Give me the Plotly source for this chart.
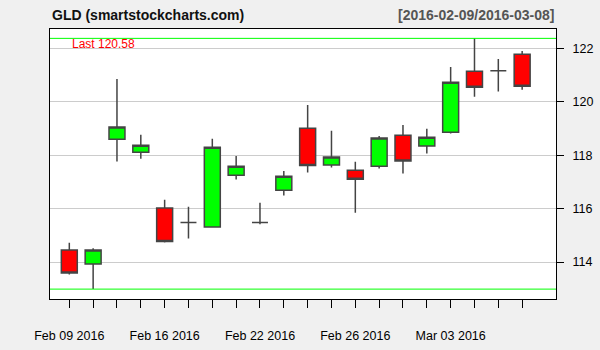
import plotly.graph_objects as go

dates = ["2016-02-09", "2016-02-10", "2016-02-11", "2016-02-12", "2016-02-16",
         "2016-02-17", "2016-02-18", "2016-02-19", "2016-02-22", "2016-02-23",
         "2016-02-24", "2016-02-25", "2016-02-26", "2016-02-29", "2016-03-01",
         "2016-03-02", "2016-03-03", "2016-03-04", "2016-03-07", "2016-03-08"]
open_ = [114.45, 113.93, 118.60, 118.11, 116.02, 115.48, 115.31, 117.25, 115.48, 116.69,
         119.01, 117.63, 117.44, 117.59, 118.75, 118.34, 118.86, 121.14, 121.16, 121.78]
high = [114.72, 114.52, 120.85, 118.76, 116.33, 116.07, 118.61, 117.97, 116.22, 117.41,
        119.88, 118.91, 117.75, 118.72, 119.13, 118.99, 121.30, 122.37, 121.60, 121.90]
low = [113.54, 112.99, 117.76, 117.87, 114.73, 114.88, 115.29, 117.09, 115.42, 116.49,
       117.35, 117.54, 115.85, 117.50, 117.31, 118.06, 118.81, 120.19, 120.38, 120.45]
close = [113.59, 114.45, 119.05, 118.37, 114.77, 115.48, 118.30, 117.59, 115.48, 117.21,
         117.61, 117.93, 117.10, 118.64, 117.78, 118.67, 120.73, 120.54, 121.16, 120.58]

label_dates = {"2016-02-09": "Feb 09 2016", "2016-02-16": "Feb 16 2016",
               "2016-02-22": "Feb 22 2016", "2016-02-26": "Feb 26 2016",
               "2016-03-03": "Mar 03 2016"}
ytick_vals = [114, 116, 118, 120, 122]
title_left = "GLD (smartstockcharts.com)"
title_right = "[2016-02-09/2016-03-08]"

FONT = "Liberation Sans, Arial, sans-serif"

fig = go.Figure()
fig.add_trace(go.Candlestick(
    x=dates, open=open_, high=high, low=low, close=close,
    increasing=dict(fillcolor="#00FF00", line=dict(color="#444444", width=1.5)),
    decreasing=dict(fillcolor="#FF0000", line=dict(color="#444444", width=1.5)),
    whiskerwidth=0, showlegend=False, hoverinfo="skip",
))

# max high / min low lines
for v in (max(high), min(low)):
    fig.add_shape(type="line", xref="paper", x0=0, x1=1, yref="y", y0=v, y1=v,
                  line=dict(color="#00FF00", width=1), layer="above")

fig.add_annotation(text=f"Last {close[-1]:.2f}", xref="paper", yref="paper",
                   x=0.039, y=0.946, xanchor="left", yanchor="middle", showarrow=False,
                   font=dict(family=FONT, size=12, color="#FF0000"))
fig.add_annotation(text=f"<b>{title_left}</b>", xref="paper", yref="paper",
                   x=0, y=1.052, xanchor="left", yanchor="middle", showarrow=False,
                   font=dict(family=FONT, size=14, color="#111111"))
fig.add_annotation(text=f"<b>{title_right}</b>", xref="paper", yref="paper",
                   x=1, y=1.052, xanchor="right", yanchor="middle", showarrow=False,
                   font=dict(family=FONT, size=14, color="#555555"))

fig.update_layout(
    width=600, height=350,
    margin=dict(l=50, r=44, t=29, b=51),
    paper_bgcolor="#F0F0F0", plot_bgcolor="#FFFFFF",
    boxgap=0.33, boxgroupgap=0,
    font=dict(family=FONT, size=12, color="#000000"),
    xaxis=dict(type="category", range=[-0.81, 20.42], rangeslider=dict(visible=False),
               automargin=False,
               tickmode="array", tickvals=dates,
               ticktext=[label_dates.get(d, "") for d in dates],
               ticks="outside", ticklen=8, tickwidth=1, tickcolor="#000000",
               showgrid=False, showline=True, mirror=True, linecolor="#000000", linewidth=1,
               ticklabelstandoff=17, tickfont=dict(size=12.5)),
    yaxis=dict(side="right", range=[112.62, 122.72], tickvals=ytick_vals,
               automargin=False,
               ticks="outside", ticklen=7, tickwidth=1, tickcolor="#000000",
               showgrid=True, gridcolor="#CCCCCC", gridwidth=1, zeroline=False,
               showline=True, mirror=True, linecolor="#000000", linewidth=1,
               ticklabelstandoff=6, tickfont=dict(size=12.5)),
)

fig.write_html("out.html")
